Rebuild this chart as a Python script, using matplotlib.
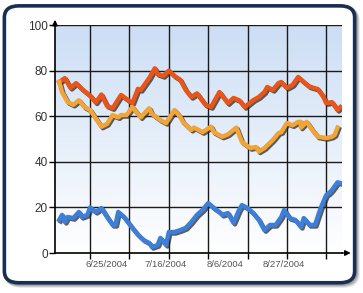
import datetime as dt
import numpy as np
import matplotlib
matplotlib.use('Agg')
import matplotlib.pyplot as plt
import matplotlib.dates as mdates
import matplotlib.transforms as mtrans
from matplotlib.patches import FancyBboxPatch

# day offsets from 2004-06-07 and values
start = dt.date(2004, 6, 7)

red_days = [1, 3, 5, 7, 9, 12, 14, 16, 18, 20, 23, 27, 29, 30, 33, 35, 36, 38, 40, 42,
            44, 46, 48, 50, 53, 55, 58, 61, 63, 65, 67, 70, 72, 74, 75, 77, 79, 80, 82,
            84, 86, 88, 90, 93, 95, 96, 98, 100, 101]
red_vals = [75, 76.7, 72.4, 74.5, 72, 69, 66, 69.5, 64.5, 63.5, 69.3, 65.7, 72, 71.5, 76.7,
            81, 78.5, 77.6, 80, 77.6, 76, 71.5, 68.4, 70, 65, 64, 70.6, 65.7, 68, 67, 64,
            67, 68.4, 70.6, 72.8, 71.5, 74.5, 75, 72.4, 73.7, 77.2, 75, 73, 71.9, 68.4,
            65.7, 66.2, 62.7, 64]

yellow_days = [1, 2, 4, 6, 8, 10, 12, 14, 16, 18, 20, 22, 23, 25, 27, 29, 30, 33, 34, 37,
               39, 42, 44, 45, 48, 49, 52, 55, 56, 59, 61, 64, 66, 69, 71, 72, 74, 77, 79,
               80, 82, 84, 86, 87, 87, 89, 91, 93, 96, 98, 99, 100]
yellow_vals = [75, 70.6, 66.2, 65, 67, 64, 62.7, 59, 55.4, 56.6, 60.5, 59.5, 60.5, 60.5, 64,
               61, 59.5, 63.5, 61, 58.3, 57, 62.7, 59.8, 57.5, 54, 55, 53, 55.4, 53, 51, 52,
               55, 48.7, 46, 46.5, 44.5, 46, 49.6, 52.6, 53, 57, 56, 57.5, 57.5, 55, 57.5,
               54, 51, 50.4, 51, 51.8, 55]

blue_days = [1, 2, 3, 4, 6, 8, 9, 11, 12, 14, 16, 18, 20, 21, 22, 24, 27, 29, 31, 33, 34,
             36, 37, 39, 40, 42, 44, 46, 48, 50, 52, 54, 56, 58, 59, 61, 63, 65, 66, 68,
             70, 72, 74, 76, 78, 80, 81, 83, 85, 87, 88, 90, 92, 94, 96, 97, 98, 100, 101]
blue_vals = [14.5, 16.7, 13.6, 15.8, 15.3, 18, 15.8, 16.7, 20, 18, 19.7, 15.8, 12.3, 12.3,
             18, 15.8, 11, 8, 5.7, 4.4, 2.6, 3.5, 6.6, 3.5, 9.2, 9.2, 10, 11, 13.6, 16.7,
             18.9, 21.9, 19.7, 18, 16.7, 17.5, 13.2, 18.9, 21, 19.7, 17.5, 14.5, 10, 12.3,
             12.3, 15.8, 18.9, 15.3, 14.5, 11.4, 15.3, 12.3, 12.3, 19.7, 25.4, 26.3, 27.6,
             31, 30.7]

grid_dates = ['2004-06-19', '2004-07-03', '2004-07-17', '2004-07-31',
              '2004-08-14', '2004-08-28', '2004-09-11']
label_dates = ['2004-06-25', '2004-07-16', '2004-08-06', '2004-08-27']
y_ticks = [0, 20, 40, 60, 80, 100]


def to_num(days):
    return mdates.date2num([start + dt.timedelta(days=d) for d in days])


plt.rcParams['font.family'] = ['Liberation Sans', 'DejaVu Sans']

fig = plt.figure(figsize=(3.63, 2.93), dpi=100)

# rounded frame with soft shadow
for i, a in enumerate([0.10, 0.14, 0.18]):
    off = (3 - i) / 363.0
    sh = FancyBboxPatch((0.012 + off, 0.035 - off * 363 / 293), 0.965, 0.945,
                        boxstyle='round,pad=0,rounding_size=0.04',
                        transform=fig.transFigure, facecolor='none',
                        edgecolor='black', alpha=a, lw=3, zorder=-3)
    fig.patches.append(sh)
frame = FancyBboxPatch((0.012, 0.035), 0.965, 0.945,
                       boxstyle='round,pad=0,rounding_size=0.04',
                       transform=fig.transFigure, facecolor='white',
                       edgecolor='#182f52', lw=2.6, zorder=-2)
fig.patches.append(frame)

ax = fig.add_axes([55 / 363, 40 / 293, 287 / 363, 228 / 293])
ax.set_facecolor('none')

x0 = mdates.date2num(start) - 0.5
x1 = mdates.date2num(start) + 101.6
ax.set_xlim(x0, x1)
ax.set_ylim(0, 100)

# gradient background
grad = np.linspace(0, 1, 256).reshape(-1, 1)
top = np.array([0.80, 0.87, 0.96])
bot = np.array([1.0, 1.0, 1.0])
img = top[None, None, :] * (1 - grad[..., None]) + bot[None, None, :] * grad[..., None]
ax.imshow(img, extent=[x0, x1, 0, 100], aspect='auto', origin='upper', zorder=0)

gnum = mdates.date2num(np.array(grid_dates, dtype='datetime64[D]').astype(object))
lnum = mdates.date2num(np.array(label_dates, dtype='datetime64[D]').astype(object))
for g in gnum:
    ax.plot([g, g], [0, 100], color='#1a1a1a', lw=1.0, zorder=1)
for y in y_ticks[1:]:
    ax.plot([x0, x1], [y, y], color='#1a1a1a', lw=1.0, zorder=1)

series = [(red_days, red_vals, '#ea5416'),
          (yellow_days, yellow_vals, '#f2a436'),
          (blue_days, blue_vals, '#3b7fdb')]
shadow = mtrans.offset_copy(ax.transData, fig=fig, x=1.5, y=-1.5, units='dots')
for d, v, c in series:
    xs = to_num(d)
    ax.plot(xs, v, color='#2a2a2a', lw=3.2, alpha=0.75, transform=shadow,
            solid_joinstyle='round', zorder=2)
for d, v, c in series:
    xs = to_num(d)
    ax.plot(xs, v, color=c, lw=3.2, solid_joinstyle='round', zorder=3)

for s in ['top', 'right']:
    ax.spines[s].set_visible(False)
for s in ['left', 'bottom']:
    ax.spines[s].set_color('black')
    ax.spines[s].set_linewidth(1.2)

ax.set_yticks(y_ticks)
ax.set_yticklabels([str(t) for t in y_ticks], fontsize=8.5, color='#333333')
ax.tick_params(axis='y', length=4, width=1, pad=1)

ax.set_xticks(gnum)
ax.set_xticklabels([''] * len(gnum))
ax.tick_params(axis='x', which='major', length=4, width=1)
ax.set_xticks(lnum, minor=True)
ax.set_xticklabels([d.strftime('%-m/%-d/%Y') for d in
                    mdates.num2date(lnum)], minor=True, fontsize=6.8, color='#555555')
ax.tick_params(axis='x', which='minor', length=0, pad=5)

# axis arrows
ax.annotate('', xy=(0, 1.035), xytext=(0, 0.99), xycoords='axes fraction',
            arrowprops=dict(arrowstyle='-|>', color='black', lw=1, mutation_scale=8),
            annotation_clip=False)
ax.annotate('', xy=(1.04, 0), xytext=(0.99, 0), xycoords='axes fraction',
            arrowprops=dict(arrowstyle='-|>', color='black', lw=1, mutation_scale=8),
            annotation_clip=False)

fig.savefig('out.png', dpi=100)
